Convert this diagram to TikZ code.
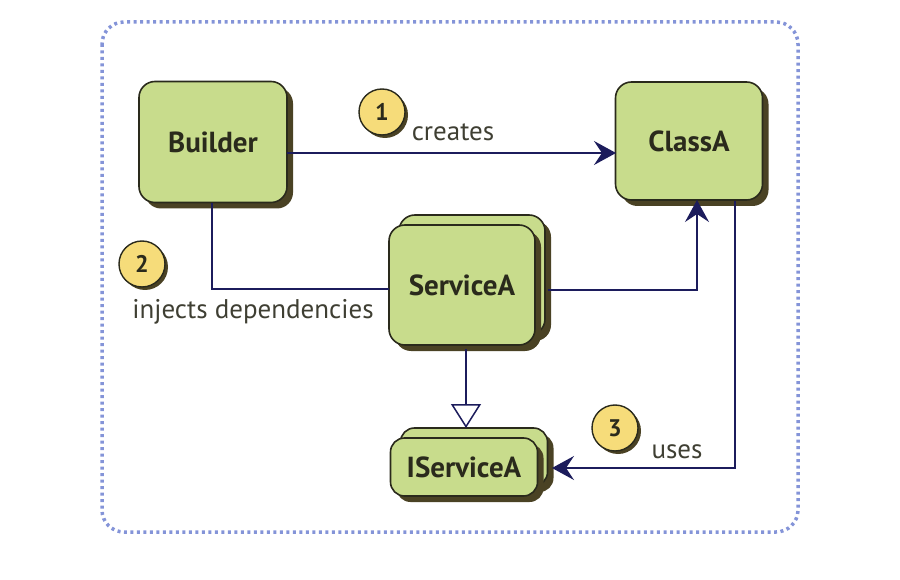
\documentclass[tikz,border=0pt]{standalone}
\usepackage{fontspec}
\setmainfont{PT Sans}
\usetikzlibrary{arrows.meta,shadows}
\definecolor{boxfill}{HTML}{C8DC8C}
\definecolor{boxline}{HTML}{2A2A1C}
\definecolor{shade}{HTML}{4A4224}
\definecolor{numfill}{HTML}{F6DC7A}
\definecolor{navy}{HTML}{1C1C5C}
\definecolor{frame}{HTML}{8494D8}
\tikzset{
  classbox/.style={draw=boxline, fill=boxfill, line width=1.6pt, rounded corners=16pt,
    font=\fontsize{29}{32}\selectfont\bfseries, text=boxline,
    drop shadow={shadow xshift=6pt, shadow yshift=-6pt, fill=shade, opacity=1}},
  numbadge/.style={circle, draw=boxline, fill=numfill, line width=1.4pt, minimum size=46pt, inner sep=0pt,
    font=\fontsize{24}{26}\selectfont\bfseries, text=boxline,
    drop shadow={shadow xshift=3pt, shadow yshift=-3pt, fill=shade, opacity=1}},
  lbl/.style={font=\fontsize{27}{29}\selectfont, text=boxline!90!white, inner sep=0pt},
  conn/.style={draw=navy, line width=1.5pt},
  arr/.style={conn, -{Stealth[length=22pt,width=24pt,inset=8pt]}},
  inh/.style={conn, -{Triangle[open,length=24pt,width=30pt,fill=white]}},
}
\begin{document}
\begin{tikzpicture}[x=1pt,y=-1pt]
\useasboundingbox (0,0) rectangle (900,580);
\draw[frame, line width=3.5pt, dash pattern=on 3pt off 3.5pt, rounded corners=22pt] (102,22) rectangle (798,532);

\node[classbox, minimum width=148pt, minimum height=121pt] (builder) at (213,142) {Builder};
\node[classbox, minimum width=147pt, minimum height=118pt] (classa) at (689,141) {ClassA};
\node[classbox, minimum width=146pt, minimum height=120pt] (serviceaback) at (472,275) {};
\node[classbox, minimum width=146pt, minimum height=120pt] (servicea) at (462,285) {ServiceA};
\node[classbox, minimum width=147pt, minimum height=58pt, rounded corners=14pt] (iserviceaback) at (474,457) {};
\node[classbox, minimum width=147pt, minimum height=58pt, rounded corners=14pt] (iservicea) at (464,467) {IServiceA};

\coordinate (c1s) at (287,153);
\coordinate (c1e) at (616,153);
\draw[arr] (c1s) -- (c1e);

\coordinate (b2) at (212,203);
\coordinate (b2e) at (389,289);
\draw[conn] (b2) |- (b2e);

\coordinate (s3) at (548,290);
\coordinate (s3e) at (697,200);
\draw[arr] (s3) -| (s3e);

\coordinate (s4) at (466,349);
\coordinate (s4e) at (466,428);
\draw[inh] (s4) -- (s4e);

\coordinate (c5) at (735,201);
\coordinate (c5e) at (552,468);
\draw[arr] (c5) |- (c5e);

\node[numbadge] (n1) at (382,112) {1};
\node[numbadge] (n2) at (142,264) {2};
\node[numbadge] (n3) at (615,428) {3};

\node[lbl] (l1) at (453,132) {creates};
\node[lbl] (l2) at (253,312) {injects dependencies};
\node[lbl] (l3) at (677,452) {uses};
\end{tikzpicture}
\end{document}
